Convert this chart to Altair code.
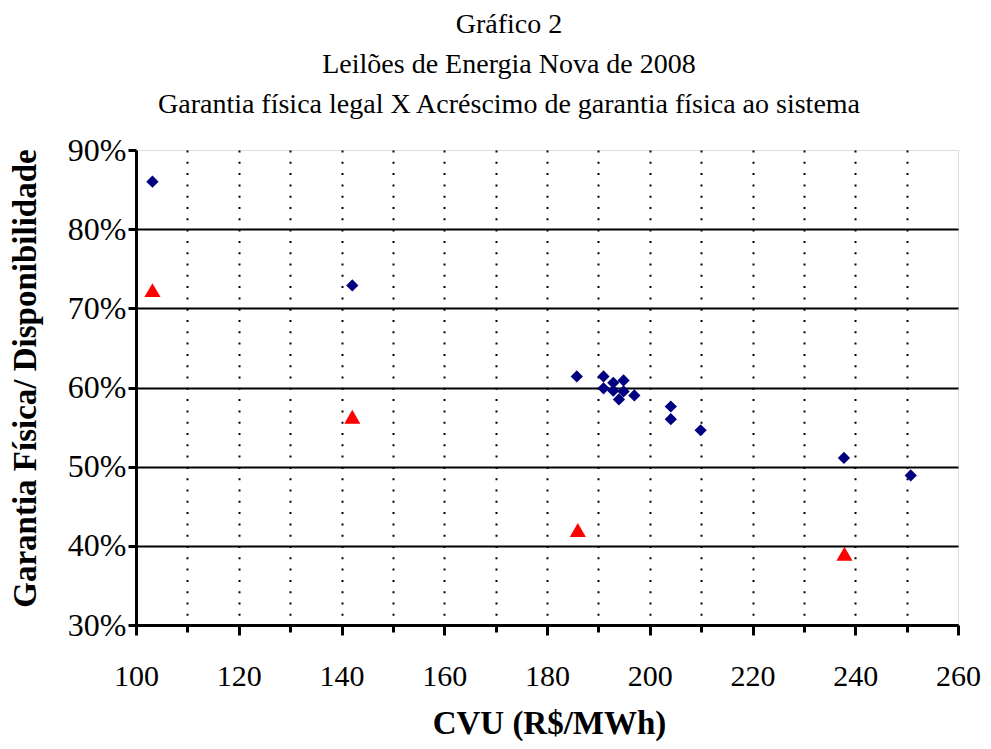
import altair as alt
import pandas as pd

# ---- data ----
diamond_cvu = [103.2, 142.1, 185.8, 191.0, 191.0, 192.9, 194.9, 192.9, 194.9, 194.0, 197.0, 204.1, 204.1, 209.9, 237.8, 250.8]
diamond_pct = [86.0, 72.9, 61.4, 61.4, 59.9, 60.6, 60.9, 59.6, 59.5, 58.5, 59.0, 57.6, 56.0, 54.6, 51.1, 48.9]
triangle_cvu = [103.2, 142.1, 186.0, 237.9]
triangle_pct = [72.3, 56.3, 42.0, 39.0]

x_major = [100, 120, 140, 160, 180, 200, 220, 240, 260]
x_minor = [110, 120, 130, 140, 150, 160, 170, 180, 190, 200, 210, 220, 230, 240, 250]
y_ticks = [0.3, 0.4, 0.5, 0.6, 0.7, 0.8, 0.9]

title_lines = ["Gráfico 2", "Leilões de Energia Nova de 2008",
               "Garantia física legal X Acréscimo de garantia física ao sistema"]
x_title = "CVU (R$/MWh)"
y_title = "Garantia Física/ Disponibilidade"

FONT = "Liberation Serif"

df_d = pd.DataFrame({"cvu": diamond_cvu, "gf": [v / 100 for v in diamond_pct]})
df_t = pd.DataFrame({"cvu": triangle_cvu, "gf": [v / 100 for v in triangle_pct]})

y_axis = alt.Axis(
    values=y_ticks, format=".0%", grid=True, gridColor="black", gridWidth=2,
    gridOpacity={"condition": {"test": "datum.value > 0.85", "value": 0}, "value": 1},
    domain=True, domainColor="black", domainWidth=3,
    ticks=True, tickSize=8, tickWidth=3, tickColor="black",
    labelFont=FONT, labelFontSize=32, labelColor="black", labelPadding=2, labelFlush=False,
    title=y_title, titleFont=FONT, titleFontSize=33, titleFontWeight="bold",
    titleColor="black", titleAngle=-90, titleAlign="center", titleBaseline="alphabetic",
    titleX=-101, titleY=228,
)
y_scale = alt.Scale(domain=[0.3, 0.9], nice=False, zero=False)

x_major_axis = alt.Axis(
    values=x_major, orient="bottom", grid=False,
    domain=True, domainColor="black", domainWidth=3,
    ticks=True, tickSize=10, tickWidth=3, tickColor="black",
    labelFont=FONT, labelFontSize=30, labelColor="black", labelPadding=26, labelFlush=False,
    title=x_title, titleFont=FONT, titleFontSize=33, titleFontWeight="bold",
    titleColor="black", titleBaseline="alphabetic", titleAlign="center",
    titleX=413, titleY=108,
)
x_minor_axis = alt.Axis(
    values=x_minor, orient="bottom", labels=False, domain=False,
    ticks=True, tickSize=7, tickWidth=3, tickColor="black",
    grid=True, gridColor="black", gridWidth=2, gridDash=[2, 9.3],
    title=None,
)

diamonds = alt.Chart(df_d).mark_point(
    shape="diamond", filled=True, color="#000080", size=150, opacity=1, strokeWidth=0
).encode(
    x=alt.X("cvu:Q", scale=alt.Scale(domain=[100, 260], nice=False, zero=False), axis=x_major_axis),
    y=alt.Y("gf:Q", scale=y_scale, axis=y_axis),
)

triangles = alt.Chart(df_t).mark_point(
    shape="triangle-up", filled=True, color="#FF0000", size=260, opacity=1, strokeWidth=0
).encode(
    x=alt.X("cvu:Q", scale=alt.Scale(domain=[100, 260], nice=False, zero=False), axis=x_minor_axis),
    y=alt.Y("gf:Q", scale=y_scale, axis=y_axis),
)

chart = alt.layer(triangles, diamonds).resolve_scale(x="independent").properties(
    width=822, height=475,
    autosize=alt.AutoSizeParams(type="none"),
    padding={"left": 128, "top": 142, "right": 25, "bottom": 116},
    title=alt.TitleParams(
        text=title_lines, font=FONT, fontSize=28, fontWeight="normal", color="black",
        lineHeight=40, anchor="middle", offset=-13, dx=-38, baseline="bottom",
    ),
).configure_view(
    fill="#C0C0C0", stroke="#808080", strokeWidth=1.5
).configure(background="white")

chart.save("out.html", embed_options={"renderer": "svg", "actions": False})
